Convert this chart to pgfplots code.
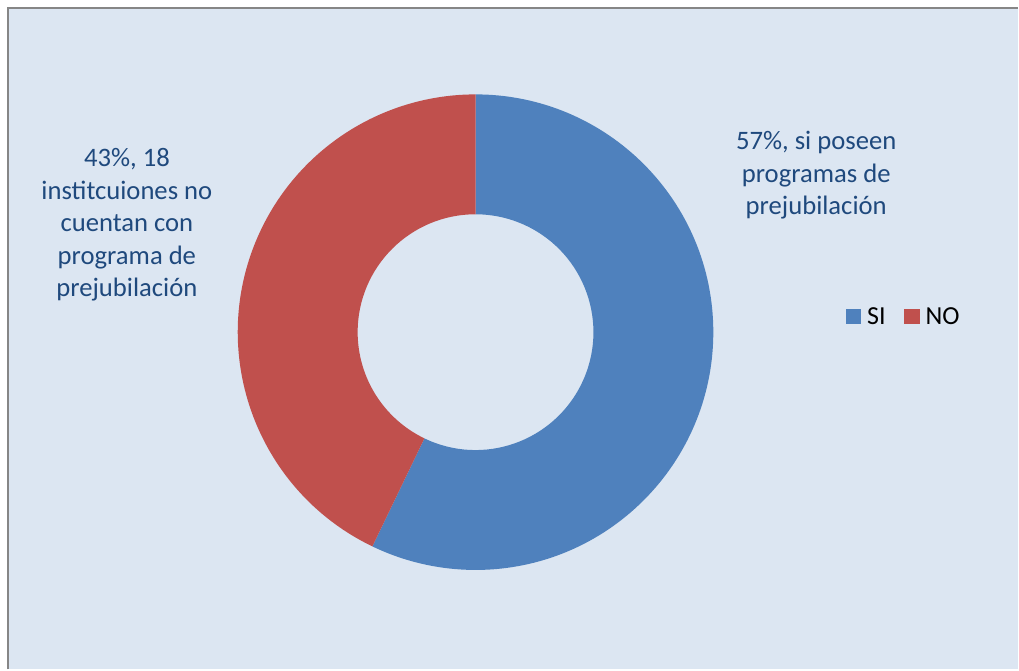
\documentclass[border=0pt]{standalone}
\usepackage{pgfplots}
\pgfplotsset{compat=1.18}
\usepackage{pgfplotstable}
\usepackage{fontspec}
\setmainfont{Carlito}
\definecolor{bg}{HTML}{DCE6F2}
\definecolor{siblue}{HTML}{4F81BD}
\definecolor{nored}{HTML}{C0504D}
\definecolor{lbl}{HTML}{1F497D}
\definecolor{framec}{HTML}{868686}
\pgfplotstableread{
cat count pct
SI 24 57
NO 18 43
}\donutdata
\pgfplotstablegetelem{0}{count}\of\donutdata \let\siv\pgfplotsretval
\pgfplotstablegetelem{1}{count}\of\donutdata \let\nov\pgfplotsretval
\pgfmathsetmacro{\angA}{90-360*\siv/(\siv+\nov)}
\begin{document}
\begin{tikzpicture}
\begin{axis}[
 scale only axis, width=764.25pt, height=502.5pt,
 xmin=0,xmax=1019,ymin=0,ymax=670,
 hide axis, clip=false,
 legend columns=2,
 legend image code/.code={\fill[#1] (0pt,-5.8pt) rectangle (11.6pt,5.8pt);},
 legend style={draw=none, fill=none, font=\fontsize{19.5}{23}\selectfont,
   at={(0.888,0.527)}, anchor=center,
   /tikz/every odd column/.append style={column sep=2.5pt},
   /tikz/every even column/.append style={column sep=12pt}},
]
\path (0,0) rectangle (1019,670);
\fill[bg] (8,0) rectangle (1019,662);
\draw[framec, line width=1.5pt] (8,0) -- (8,662) -- (1019,662);
% SI wedge
\fill[siblue] (476,337.5) ++(90:178.5pt) arc[start angle=90, end angle=\angA, radius=178.5pt]
  -- ++(\angA:-90pt) arc[start angle=\angA, end angle=90, radius=88.5pt] -- cycle;
% NO wedge
\fill[nored] (476,337.5) ++(\angA:178.5pt) arc[start angle=\angA, end angle=-270, radius=178.5pt]
  -- ++(-270:-90pt) arc[start angle=-270, end angle=\angA, radius=88.5pt] -- cycle;
\node[text=lbl, align=center, font=\fontsize{20}{24.4}\selectfont] at (127,445)
  {43\%, 18\\institcuiones no\\cuentan con\\programa de\\prejubilación};
\node[text=lbl, align=center, font=\fontsize{20}{24.4}\selectfont] at (817,494.5)
  {57\%, si poseen\\programas de\\prejubilación};
\addlegendimage{fill=siblue, draw=none}
\addlegendentry{SI}
\addlegendimage{fill=nored, draw=none}
\addlegendentry{NO}
\end{axis}
\end{tikzpicture}
\end{document}
